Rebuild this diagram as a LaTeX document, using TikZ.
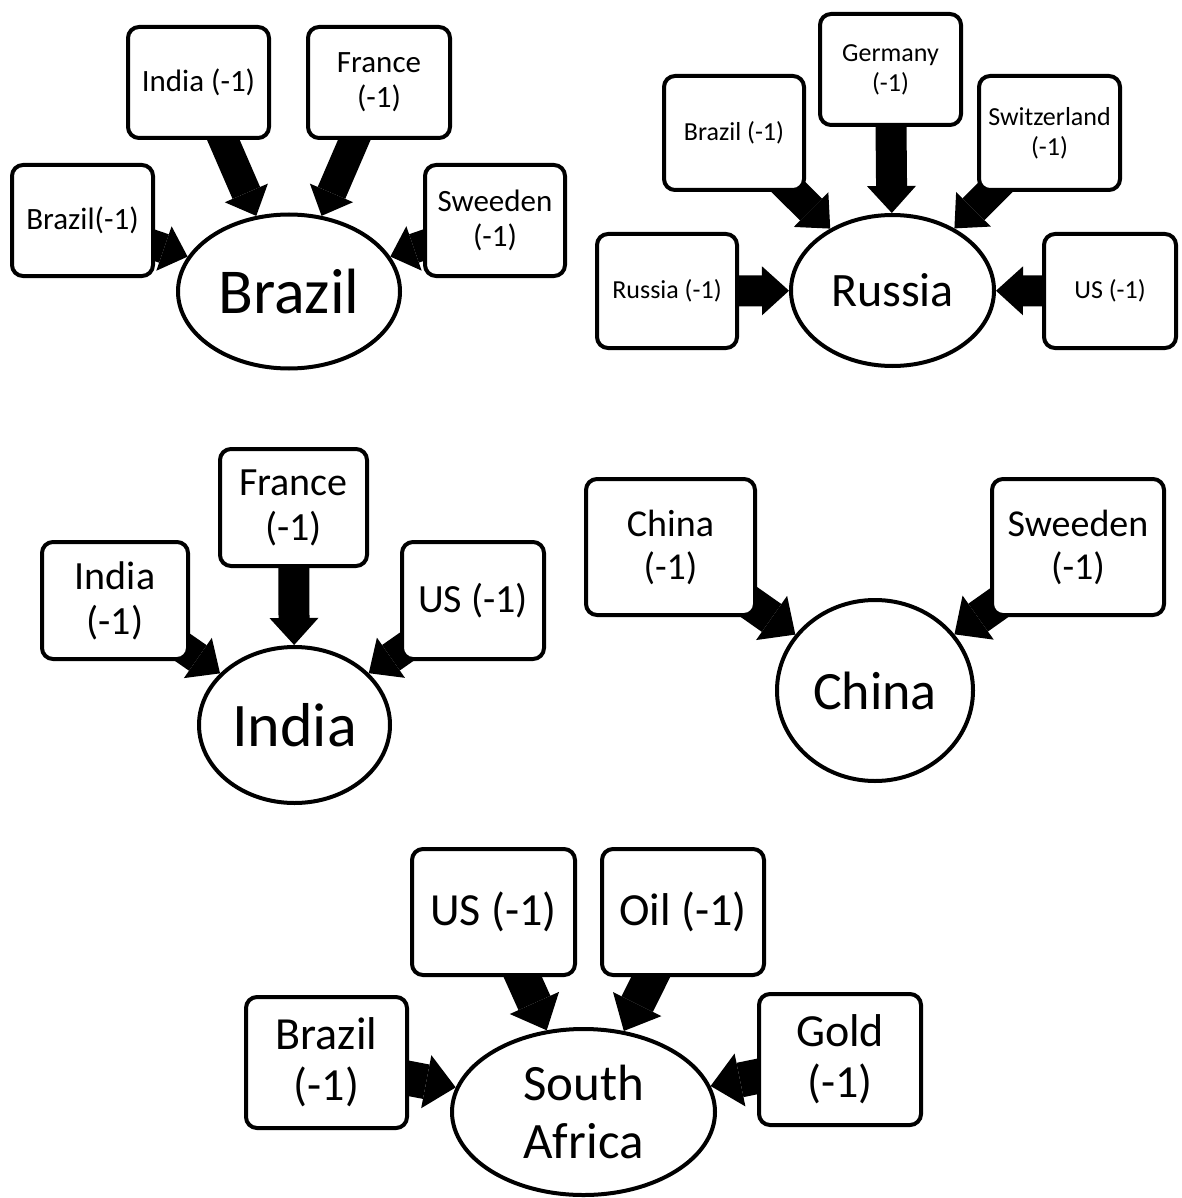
\documentclass[tikz,border=0pt]{standalone}
\usepackage{fontspec}
\setmainfont{Carlito}
\usetikzlibrary{arrows.meta,shapes.geometric}
\pgfdeclarelayer{bg}
\pgfdeclarelayer{paper}
\pgfsetlayers{paper,bg,main}
\begin{document}
\begin{tikzpicture}[x=1pt,y=-1pt,
  box/.style={draw, line width=4pt, rounded corners=11pt, fill=white, align=center, inner sep=0pt},
  hub/.style={draw, ellipse, line width=4pt, fill=white, align=center, inner sep=0pt},
  barrow/.style n args={3}{line width=#1pt, -{Triangle[length=#3pt,width=#2pt,line width=0pt]}},
  abr/.style={barrow={30}{47}{25}},
  aru/.style={barrow={31}{49}{27}},
  ain/.style={barrow={31}{49}{27}},
  ach/.style={barrow={34}{54}{29}},
  asa/.style={barrow={35}{54}{30}},
  fbr/.style={font=\fontsize{31}{35}\selectfont},
  fru/.style={font=\fontsize{26}{30}\selectfont},
  fin/.style={font=\fontsize{40}{45}\selectfont},
  fch/.style={font=\fontsize{38}{43}\selectfont},
  fsa/.style={font=\fontsize{46}{51}\selectfont}]
\useasboundingbox (0,0) rectangle (1181,1198);
\begin{pgfonlayer}{paper}
  \fill[white] (0,0) rectangle (1181,1198);
\end{pgfonlayer}

% ---------- Brazil group
\node[hub,font=\fontsize{64}{70}\selectfont,minimum width=222pt,minimum height=154pt] (brazil) at (289,291.5) {Brazil};
\node[box,fbr,minimum width=141pt,minimum height=111pt] (bA) at (82.5,220.5) {Brazil(-1)};
\node[box,fbr,minimum width=141pt,minimum height=111pt] (bB) at (198.5,82.5) {India (-1)};
\node[box,fbr,minimum width=142pt,minimum height=111pt] (bC) at (379,82.5) {France\\(-1)};
\node[box,fbr,minimum width=140pt,minimum height=111pt] (bD) at (495,220.5) {Sweeden\\(-1)};

% ---------- Russia group
\node[hub,font=\fontsize{48}{54}\selectfont,minimum width=203pt,minimum height=151pt] (russia) at (892.5,290.5) {Russia};
\node[box,fru,minimum width=140pt,minimum height=114pt] (rA) at (667,291) {Russia (-1)};
\node[box,fru,minimum width=140pt,minimum height=114pt] (rB) at (734,133) {Brazil (-1)};
\node[box,fru,minimum width=141pt,minimum height=111pt] (rC) at (890.5,69.5) {Germany\\(-1)};
\node[box,fru,minimum width=141pt,minimum height=114pt] (rD) at (1049.5,133) {Switzerland\\(-1)};
\node[box,fru,minimum width=132pt,minimum height=114pt] (rE) at (1110,291) {US (-1)};

% ---------- India group
\node[hub,font=\fontsize{62}{68}\selectfont,minimum width=191pt,minimum height=156pt] (india) at (294.5,725) {India};
\node[box,fin,minimum width=146pt,minimum height=117pt] (iA) at (115,600.5) {India\\(-1)};
\node[box,fin,minimum width=147pt,minimum height=117pt] (iB) at (293.5,507.5) {France\\(-1)};
\node[box,fin,minimum width=142pt,minimum height=117pt] (iC) at (473,600.5) {US (-1)};

% ---------- China group
\node[hub,font=\fontsize{54}{60}\selectfont,minimum width=196pt,minimum height=181pt] (china) at (875,690.5) {China};
\node[box,fch,minimum width=169pt,minimum height=136pt] (cA) at (670.5,547) {China\\(-1)};
\node[box,fch,minimum width=172pt,minimum height=136pt] (cB) at (1078,547) {Sweeden\\(-1)};

% ---------- South Africa group
\node[hub,font=\fontsize{51}{58}\selectfont,minimum width=263pt,minimum height=166pt] (safrica) at (583.5,1112) {South\\Africa};
\node[box,fsa,minimum width=163pt,minimum height=126pt] (sA) at (493.5,912) {US (-1)};
\node[box,fsa,minimum width=162pt,minimum height=126pt] (sB) at (683,912) {Oil (-1)};
\node[box,fsa,minimum width=161pt,minimum height=131pt] (sC) at (326.5,1062.5) {Brazil\\(-1)};
\node[box,fsa,minimum width=162pt,minimum height=131pt] (sD) at (840,1059.5) {Gold\\(-1)};

\begin{pgfonlayer}{bg}
  \draw[abr] (bA.center) -- (brazil);
  \draw[abr] (bB.center) -- (brazil);
  \draw[abr] (bC.center) -- (brazil);
  \draw[abr] (bD.center) -- (brazil);
  \draw[aru] (rA.center) -- (russia);
  \draw[aru] (rB.center) -- (russia);
  \draw[aru] (rC.center) -- (russia);
  \draw[aru] (rD.center) -- (russia);
  \draw[aru] (rE.center) -- (russia);
  \draw[ain] (iA.center) -- (india);
  \draw[ain] (iB.center) -- (india);
  \draw[ain] (iC.center) -- (india);
  \draw[ach] (cA.center) -- (china);
  \draw[ach] (cB.center) -- (china);
  \draw[asa] (sA.center) -- (safrica);
  \draw[asa] (sB.center) -- (safrica);
  \draw[asa] (sC.center) -- (safrica);
  \draw[asa] (sD.center) -- (safrica);
\end{pgfonlayer}
\end{tikzpicture}
\end{document}
